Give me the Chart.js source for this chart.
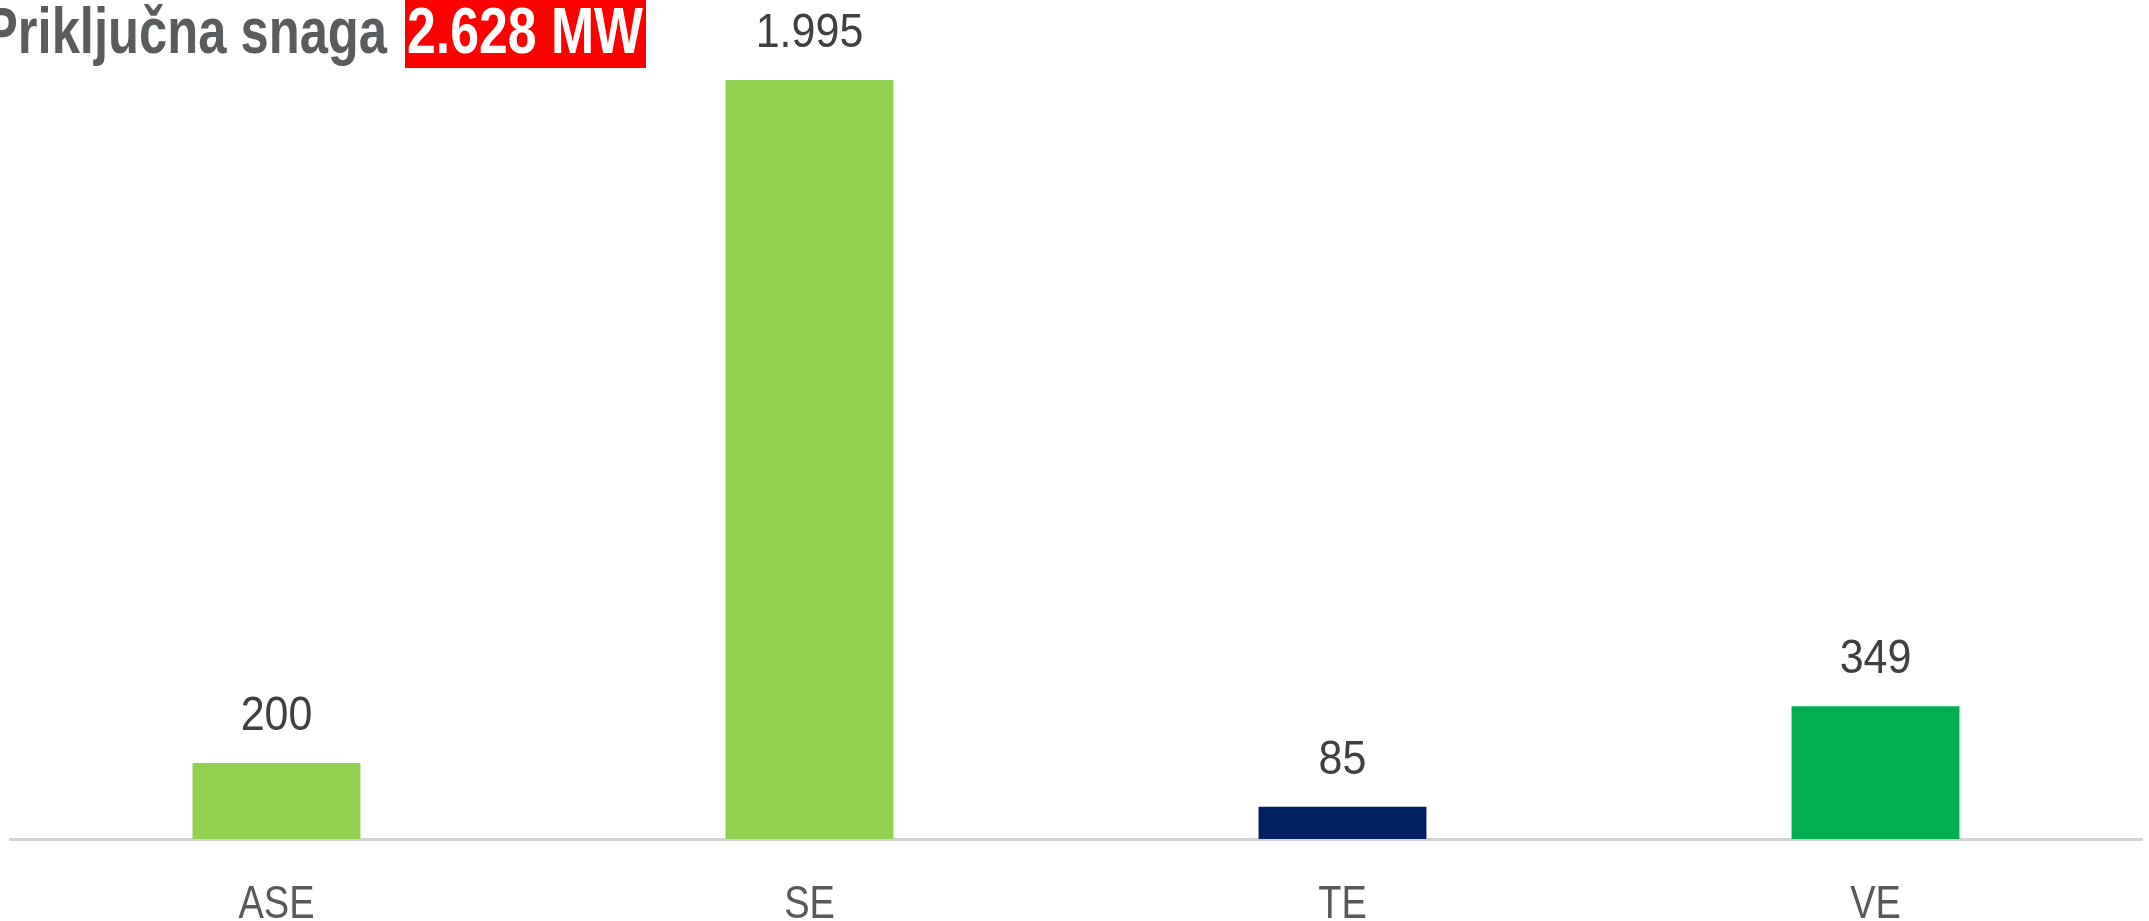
<!DOCTYPE html>
<html>
<head>
<meta charset="utf-8">
<script src="https://cdn.jsdelivr.net/npm/chart.js@4/dist/chart.umd.min.js"></script>
<style>
  html, body { margin: 0; padding: 0; background: #fff; }
  #wrap { width: 2149px; height: 921px; }
</style>
</head>
<body>
<div id="wrap"><canvas id="myChart" width="2149" height="921"></canvas></div>
<script>
// --- data ---
let categories = ["ASE", "SE", "TE", "VE"];
let snaga = [200, 1995, 85, 349];
let barColors = ["#92d050", "#92d050", "#002060", "#00b050"];
let titleText = "Priključna snaga";
let totalText = "2.628 MW";

function fmt(v) {
  return String(v).replace(/\B(?=(\d{3})+(?!\d))/g, ".");
}

// text a bit taller than wide, like the original picture
function tallText(ctx, txt, x, y, size, stretch, color) {
  ctx.save();
  ctx.font = size + 'px "Liberation Sans", Arial, sans-serif';
  ctx.fillStyle = color;
  ctx.textAlign = "center";
  ctx.textBaseline = "alphabetic";
  ctx.translate(x, y);
  ctx.scale(1, stretch);
  ctx.fillText(txt, 0, 0);
  ctx.restore();
}

// value labels above the bars + category names under the axis
const barText = {
  id: "barText",
  afterDatasetsDraw(chart) {
    const ctx = chart.ctx;
    const meta = chart.getDatasetMeta(0);
    const xs = chart.scales.x;
    meta.data.forEach((bar, i) => {
      tallText(ctx, fmt(snaga[i]), bar.x, bar.y - 33, 43, 1.1, "#404040");
    });
    categories.forEach((c, i) => {
      tallText(ctx, c, xs.getPixelForValue(i), 918, 38, 1.2, "#595959");
    });
  }
};

// heading with red total box
const heading = {
  id: "heading",
  afterDraw(chart) {
    const ctx = chart.ctx;
    ctx.save();
    ctx.font = 'bold 63px "Liberation Sans Narrow", "Liberation Sans", Arial, sans-serif';
    ctx.textBaseline = "alphabetic";
    ctx.textAlign = "left";

    // gray part, squeezed to narrow width
    let w1 = ctx.measureText(titleText).width;
    ctx.save();
    ctx.translate(-16, 53);
    ctx.scale(403 / w1, 1.02);
    ctx.fillStyle = "#5a5d60";
    ctx.fillText(titleText, 0, 0);
    ctx.restore();

    // red box + white total
    ctx.fillStyle = "#ff0000";
    ctx.fillRect(405, 0, 241, 68);
    let w2 = ctx.measureText(totalText).width;
    ctx.save();
    ctx.translate(407, 53);
    ctx.scale(236 / w2, 1.02);
    ctx.fillStyle = "#ffffff";
    ctx.fillText(totalText, 0, 0);
    ctx.restore();

    ctx.restore();
  }
};

new Chart("myChart", {
  type: "bar",
  data: {
    labels: categories,
    datasets: [{
      data: snaga,
      backgroundColor: barColors,
      borderWidth: 0,
      barPercentage: 1,
      categoryPercentage: 0.315
    }]
  },
  options: {
    responsive: false,
    animation: false,
    layout: { padding: { top: 2, left: 10, right: 7, bottom: 0 } },
    plugins: {
      legend: { display: false },
      tooltip: { enabled: false }
    },
    scales: {
      x: {
        grid: { display: false, drawTicks: false },
        border: { display: true, color: "#d4d4d4", width: 3 },
        ticks: { display: false },
        afterFit(scale) { scale.height = 82; }
      },
      y: {
        display: false,
        min: 0,
        max: 2200
      }
    }
  },
  plugins: [barText, heading]
});
</script>
</body>
</html>
